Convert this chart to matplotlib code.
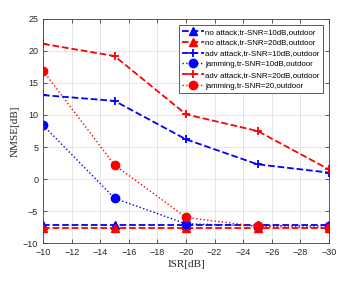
import matplotlib
matplotlib.use('Agg')
import matplotlib.pyplot as plt

isr = [-10, -15, -20, -25, -30]

no_attack_10 = [-7.2, -7.2, -7.2, -7.2, -7.2]
no_attack_20 = [-7.6, -7.6, -7.6, -7.6, -7.6]
adv_attack_10 = [13.1, 12.2, 6.2, 2.3, 1.0]
jamming_10 = [8.4, -3.0, -7.0, -7.3, -7.3]
adv_attack_20 = [21.1, 19.2, 10.1, 7.5, 1.5]
jamming_20 = [16.9, 2.2, -6.0, -7.4, -7.6]

labels = ['no attack,tr-SNR=10dB,outdoor',
          'no attack,tr-SNR=20dB,outdoor',
          'adv attack,tr-SNR=10dB,outdoor',
          'jamming,tr-SNR=10dB,outdoor',
          'adv attack,tr-SNR=20dB,outdoor',
          'jamming,tr-SNR=20,outdoor']

x_ticks = list(range(-10, -31, -2))
y_ticks = list(range(-10, 26, 5))

plt.rcParams['font.family'] = ['Liberation Sans', 'DejaVu Sans']

fig = plt.figure(figsize=(3.5, 2.82), dpi=100)
ax = fig.add_axes([0.123, 0.138, 0.817, 0.795])

ax.plot(isr, no_attack_10, 'b--^', lw=1.3, ms=6, label=labels[0])
ax.plot(isr, no_attack_20, 'r--^', lw=1.3, ms=6, label=labels[1])
ax.plot(isr, adv_attack_10, 'b--+', lw=1.3, ms=6, mew=1.3, label=labels[2])
ax.plot(isr, jamming_10, 'b:o', lw=1.0, ms=6, label=labels[3])
ax.plot(isr, adv_attack_20, 'r--+', lw=1.3, ms=6, mew=1.3, label=labels[4])
ax.plot(isr, jamming_20, 'r:o', lw=1.0, ms=6, label=labels[5])

ax.set_xlim(-10, -30)
ax.set_ylim(-10, 25)
ax.set_xticks(x_ticks)
ax.set_yticks(y_ticks)
ax.tick_params(direction='in', top=True, right=True, labelsize=6.5,
               length=3, width=0.6, colors='#404040', labelcolor='#262626')
ax.grid(True, color='#e0e0e0', lw=0.6)
ax.set_axisbelow(True)
for s in ax.spines.values():
    s.set_color('#404040')
    s.set_linewidth(0.6)

ax.set_xlabel('ISR[dB]', family='Liberation Serif', fontsize=8, color='#262626', labelpad=2)
ax.set_ylabel('NMSE[dB]', family='Liberation Serif', fontsize=8, color='#262626', labelpad=2)

leg = ax.legend(loc='upper right', fontsize=5.7, handlelength=2.8, handletextpad=0.2,
                borderpad=0.4, labelspacing=0.42, fancybox=False, framealpha=1,
                edgecolor='#404040', bbox_to_anchor=(0.979, 0.973), borderaxespad=0)
leg.get_frame().set_linewidth(0.6)

fig.savefig('out.png', dpi=100)
